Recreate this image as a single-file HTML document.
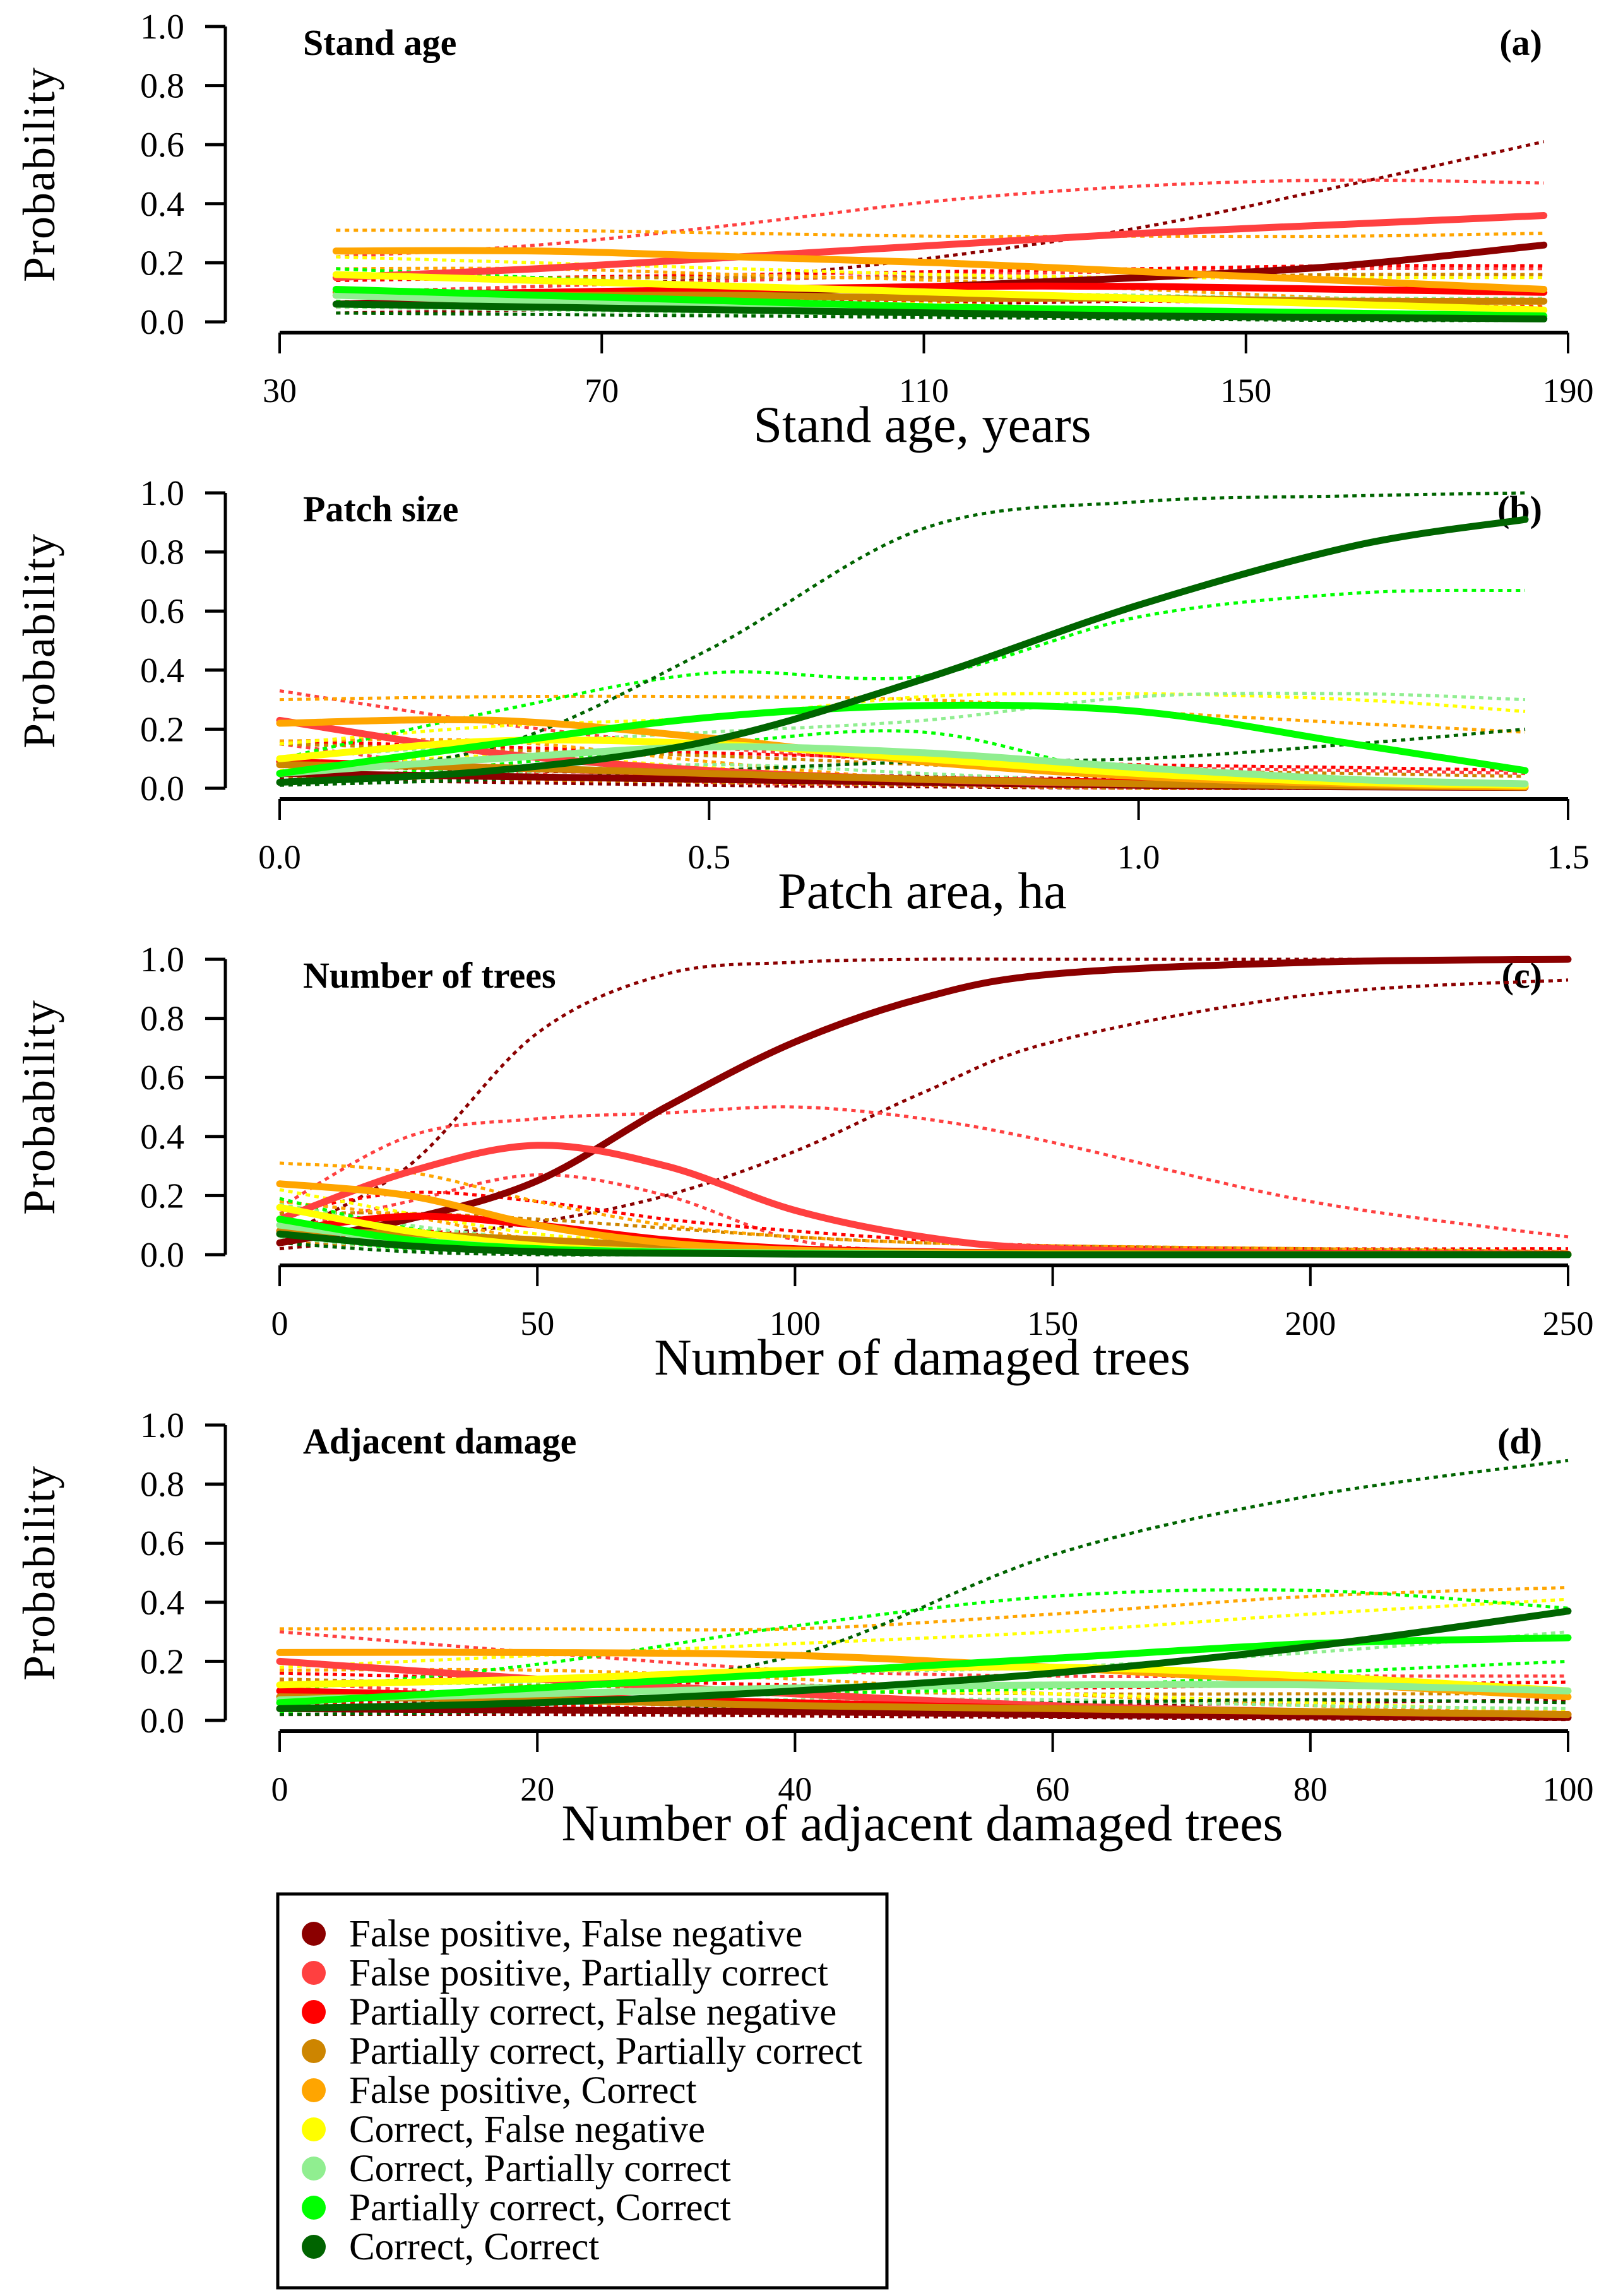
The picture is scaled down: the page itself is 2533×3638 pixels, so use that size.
<!DOCTYPE html>
<html><head><meta charset="utf-8">
<style>
html,body{margin:0;padding:0;background:#fff;}
svg{display:block;}
text{font-family:"Liberation Serif",serif;fill:#000;}
</style></head>
<body>
<svg id="chart" width="2533" height="3638" viewBox="0 0 2533 3638" xmlns="http://www.w3.org/2000/svg"></svg>
<script>
const seriesNames = ["False positive, False negative","False positive, Partially correct","Partially correct, False negative","Partially correct, Partially correct","False positive, Correct","Correct, False negative","Correct, Partially correct","Partially correct, Correct","Correct, Correct"];
const seriesColors = ["#8B0000","#FF4040","#FF0000","#CD8500","#FFA500","#FFFF00","#90EE90","#00FF00","#006400"];

// Panel a: stand age
const aX = [37,62,87,112,137,162,187];
const aMean = [[.06,.08,.10,.12,.15,.19,.26],[.15,.18,.22,.26,.30,.33,.36],[.09,.10,.11,.12,.12,.11,.10],[.10,.09,.09,.08,.08,.07,.07],[.24,.24,.22,.20,.17,.14,.11],[.16,.14,.12,.10,.08,.06,.04],[.09,.07,.06,.05,.04,.03,.02],[.11,.09,.07,.05,.04,.03,.02],[.06,.05,.04,.03,.02,.015,.01]];
const aUpper = [[.10,.12,.15,.22,.32,.46,.61],[.22,.26,.33,.41,.46,.48,.47],[.14,.15,.16,.17,.18,.19,.19],[.16,.15,.15,.15,.15,.16,.16],[.31,.31,.30,.29,.29,.29,.30],[.22,.20,.18,.16,.15,.15,.15],[.16,.14,.12,.10,.09,.08,.08],[.18,.15,.12,.10,.08,.07,.07],[.11,.09,.07,.05,.04,.03,.03]];
const aLower = [[.03,.04,.05,.06,.07,.07,.07],[.10,.12,.14,.16,.17,.18,.18],[.05,.06,.07,.07,.07,.06,.05],[.05,.05,.05,.04,.04,.03,.03],[.18,.18,.16,.14,.11,.08,.06],[.10,.09,.07,.06,.04,.03,.02],[.05,.04,.03,.02,.02,.01,.01],[.07,.05,.04,.03,.02,.01,.01],[.03,.025,.02,.015,.01,.005,.005]];
const aTicks = [30,70,110,150,190];
const aTickLabels = ["30","70","110","150","190"];

// Panel b: patch size
const bX = [0,.25,.5,.75,1.0,1.25,1.45];
const bMean = [[.05,.04,.03,.02,.01,.005,.003],[.23,.12,.06,.03,.015,.01,.005],[.09,.07,.05,.03,.02,.01,.005],[.08,.07,.05,.03,.015,.008,.004],[.22,.23,.17,.09,.04,.015,.005],[.10,.16,.15,.10,.05,.02,.01],[.05,.10,.14,.12,.07,.03,.015],[.05,.15,.24,.28,.26,.15,.06],[.02,.06,.16,.37,.62,.82,.91]];
const bUpper = [[.08,.06,.05,.04,.03,.02,.01],[.33,.22,.14,.09,.07,.06,.05],[.16,.14,.12,.10,.08,.07,.06],[.15,.13,.11,.08,.06,.05,.04],[.30,.31,.31,.30,.26,.22,.19],[.15,.21,.24,.31,.32,.30,.26],[.10,.15,.19,.23,.31,.32,.30],[.10,.26,.39,.38,.58,.66,.67],[.04,.14,.47,.88,.97,.99,1.0]];
const bLower = [[.03,.02,.01,.005,0,0,0],[.15,.06,.02,.01,0,0,0],[.05,.03,.02,.01,0,0,0],[.04,.03,.02,.01,0,0,0],[.16,.16,.09,.03,.01,0,0],[.06,.11,.07,.03,.01,0,0],[.02,.05,.08,.05,.02,.01,0],[.02,.08,.15,.19,.04,.02,.01],[.01,.03,.06,.09,.10,.15,.20]];
const bTicks = [0,0.5,1.0,1.5];
const bTickLabels = ["0.0","0.5","1.0","1.5"];

// Panel c: number of trees
const cX = [0,25,50,75,100,125,150,200,250];
const cMean = [[.04,.12,.25,.50,.72,.87,.95,.99,1.0],[.12,.28,.37,.30,.15,.06,.02,.005,.002],[.08,.13,.10,.05,.02,.01,.005,.002,.001],[.08,.07,.05,.03,.015,.008,.004,.001,0],[.24,.20,.10,.04,.015,.006,.003,.001,0],[.16,.08,.03,.01,.005,.002,.001,0,0],[.10,.05,.02,.01,.005,.002,0,0,0],[.12,.05,.02,.008,.003,.001,0,0,0],[.07,.03,.01,.005,.002,.001,0,0,0]];
const cUpper = [[.06,.30,.75,.95,.99,1.0,1.0,1.0,1.0],[.16,.40,.46,.48,.50,.46,.38,.18,.06],[.14,.21,.18,.12,.08,.05,.03,.02,.02],[.14,.14,.12,.09,.06,.04,.03,.02,.01],[.31,.28,.18,.10,.06,.04,.03,.02,.01],[.22,.14,.07,.04,.02,.01,.01,.005,.005],[.17,.10,.05,.02,.01,.01,0,0,0],[.19,.09,.04,.02,.01,0,0,0,0],[.11,.05,.02,.01,.005,0,0,0,0]];
const cLower = [[.02,.06,.11,.20,.35,.55,.72,.88,.93],[.08,.18,.27,.20,.05,.01,0,0,0],[.04,.08,.05,.02,.01,0,0,0,0],[.04,.03,.02,.01,0,0,0,0,0],[.18,.13,.05,.01,0,0,0,0,0],[.10,.04,.01,0,0,0,0,0,0],[.06,.02,.01,0,0,0,0,0,0],[.07,.02,.01,0,0,0,0,0,0],[.04,.01,0,0,0,0,0,0,0]];
const cTicks = [0,50,100,150,200,250];
const cTickLabels = ["0","50","100","150","200","250"];

// Panel d: adjacent damage
const dX = [0,20,40,60,80,100];
const dMean = [[.04,.035,.03,.02,.015,.01],[.20,.14,.09,.05,.03,.02],[.10,.08,.06,.04,.03,.02],[.08,.07,.05,.04,.03,.02],[.23,.23,.22,.18,.13,.08],[.12,.14,.17,.18,.15,.10],[.07,.09,.11,.12,.12,.10],[.06,.11,.16,.21,.26,.28],[.04,.06,.10,.16,.25,.37]];
const dUpper = [[.07,.06,.05,.05,.06,.07],[.30,.23,.17,.15,.15,.15],[.16,.14,.12,.11,.12,.13],[.14,.12,.10,.09,.09,.09],[.31,.31,.31,.36,.42,.45],[.18,.22,.26,.30,.36,.41],[.12,.13,.16,.18,.23,.30],[.10,.19,.32,.42,.44,.38],[.07,.10,.22,.56,.76,.88]];
const dLower = [[.02,.02,.015,.01,.005,.003],[.13,.08,.05,.02,.01,.005],[.06,.05,.03,.02,.01,.005],[.04,.04,.03,.02,.01,.005],[.17,.17,.14,.09,.05,.02],[.08,.09,.10,.09,.06,.03],[.04,.06,.07,.07,.05,.04],[.03,.06,.09,.11,.16,.20],[.02,.03,.05,.06,.07,.06]];
const dTicks = [0,20,40,60,80,100];
const dTickLabels = ["0","20","40","60","80","100"];

const yTicks = [0,0.2,0.4,0.6,0.8,1.0];
const yTickLabels = ["0.0","0.2","0.4","0.6","0.8","1.0"];

const NS = "http://www.w3.org/2000/svg";
const svg = document.getElementById("chart");
function mk(tag, attrs, parent){ const e=document.createElementNS(NS,tag); for(const k in attrs) e.setAttribute(k,attrs[k]); (parent||svg).appendChild(e); return e; }

function smoothPath(pts){
  let d = "M"+pts[0][0].toFixed(1)+","+pts[0][1].toFixed(1);
  for(let i=0;i<pts.length-1;i++){
    const p0=pts[Math.max(0,i-1)], p1=pts[i], p2=pts[i+1], p3=pts[Math.min(pts.length-1,i+2)];
    const c1x=p1[0]+(p2[0]-p0[0])/6, c1y=p1[1]+(p2[1]-p0[1])/6;
    const c2x=p2[0]-(p3[0]-p1[0])/6, c2y=p2[1]-(p3[1]-p1[1])/6;
    d+=" C"+c1x.toFixed(1)+","+c1y.toFixed(1)+" "+c2x.toFixed(1)+","+c2y.toFixed(1)+" "+p2[0].toFixed(1)+","+p2[1].toFixed(1);
  }
  return d;
}

const X0=443, X1=2484, PH=468;
const panels = [
  {key:"a", top:42, title:"Stand age", tag:"(a)", xlab:"Stand age, years", xmin:30, xmax:190, xs:aX, mean:aMean, up:aUpper, lo:aLower, ticks:aTicks, tl:aTickLabels},
  {key:"b", top:781, title:"Patch size", tag:"(b)", xlab:"Patch area, ha", xmin:0, xmax:1.5, xs:bX, mean:bMean, up:bUpper, lo:bLower, ticks:bTicks, tl:bTickLabels},
  {key:"c", top:1520, title:"Number of trees", tag:"(c)", xlab:"Number of damaged trees", xmin:0, xmax:250, xs:cX, mean:cMean, up:cUpper, lo:cLower, ticks:cTicks, tl:cTickLabels},
  {key:"d", top:2258, title:"Adjacent damage", tag:"(d)", xlab:"Number of adjacent damaged trees", xmin:0, xmax:100, xs:dX, mean:dMean, up:dUpper, lo:dLower, ticks:dTicks, tl:dTickLabels}
];

panels.forEach(p=>{
  const g = mk("g",{});
  
  
  const xs = v => X0 + (v-p.xmin)/(p.xmax-p.xmin)*(X1-X0);
  const ys = v => p.top + PH - Math.max(0,Math.min(1,v))*PH;
  const ya = mk("line",{x1:357,x2:357,y1:p.top,y2:p.top+PH,stroke:"#000","stroke-width":5},g);
  
  
  yTicks.forEach((t,i)=>{
    mk("line",{x1:325,x2:357,y1:ys(t),y2:ys(t),stroke:"#000","stroke-width":5},g);
    const tx = mk("text",{x:292,y:ys(t)+19,"text-anchor":"end","font-size":56},g);
    tx.textContent = yTickLabels[i];
    
    
  });
  const yl = mk("text",{x:0,y:0,"text-anchor":"middle","font-size":72,"letter-spacing":"2",transform:"translate(86,"+(p.top+234)+") rotate(-90)"},g);
  yl.textContent = "Probability";
  
  
  const xa = mk("line",{x1:X0,x2:X1,y1:p.top+485,y2:p.top+485,stroke:"#000","stroke-width":6},g);
  
  
  p.ticks.forEach((t,i)=>{
    mk("line",{x1:xs(t),x2:xs(t),y1:p.top+485,y2:p.top+518,stroke:"#000","stroke-width":4},g);
    const tx = mk("text",{x:xs(t),y:p.top+595,"text-anchor":"middle","font-size":54},g);
    tx.textContent = p.tl[i];
    
    
  });
  const xl = mk("text",{x:1461,y:p.top+658,"text-anchor":"middle","font-size":82},g);
  xl.textContent = p.xlab;
  
  
  const tt = mk("text",{x:480,y:p.top+45,"font-size":58,"font-weight":"bold"},g);
  tt.textContent = p.title;
  
  
  const tg = mk("text",{x:2443,y:p.top+45,"text-anchor":"end","font-size":58,"font-weight":"bold"},g);
  tg.textContent = p.tag;
  
  
  for(let s=0;s<9;s++){
    [p.up[s],p.lo[s]].forEach((arr,j)=>{
      const pts = p.xs.map((x,i)=>[xs(x),ys(arr[i])]);
      const path = mk("path",{d:smoothPath(pts),fill:"none",stroke:seriesColors[s],"stroke-width":5,"stroke-dasharray":"7 7"},g);
      
      
    });
  }
  for(let s=0;s<9;s++){
    const pts = p.xs.map((x,i)=>[xs(x),ys(p.mean[s][i])]);
    const path = mk("path",{d:smoothPath(pts),fill:"none",stroke:seriesColors[s],"stroke-width":11,"stroke-linecap":"round"},g);
    
    
  }
});

const lg = mk("g",{});


mk("rect",{x:440,y:3001,width:965,height:624,fill:"#fff",stroke:"#000","stroke-width":5},lg);
seriesNames.forEach((n,i)=>{
  const y = 3064 + i*62;
  const c = mk("circle",{cx:497,cy:y,r:19,fill:seriesColors[i]},lg);
  
  
  const t = mk("text",{x:553,y:y+20,"font-size":61},lg);
  t.textContent = n;
  
  
});
</script>
</body></html>
